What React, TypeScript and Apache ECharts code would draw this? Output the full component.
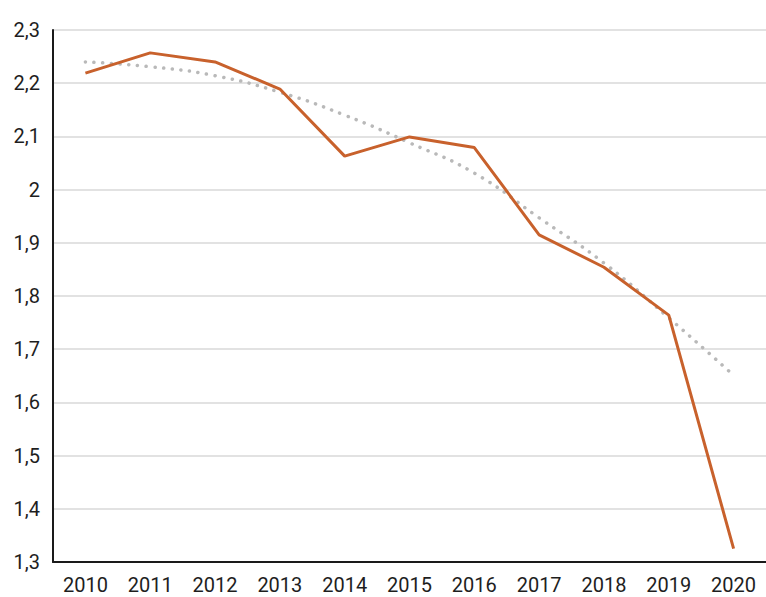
import React, { useEffect, useRef } from "react";
import * as echarts from "echarts";

const years = ["2010", "2011", "2012", "2013", "2014", "2015", "2016", "2017", "2018", "2019", "2020"];
const values = [2.219, 2.257, 2.24, 2.189, 2.063, 2.099, 2.079, 1.915, 1.854, 1.764, 1.325];
const trend = [2.24, 2.231, 2.214, 2.183, 2.14, 2.088, 2.031, 1.947, 1.862, 1.759, 1.651];

export default function App() {
  const ref = useRef<HTMLDivElement>(null);
  useEffect(() => {
    if (!ref.current) return;
    const chart = echarts.init(ref.current, null, { renderer: "svg" });
    chart.setOption({
      animation: false,
      backgroundColor: "#ffffff",
      grid: { left: 53, top: 30, width: 718, height: 532, containLabel: false },
      xAxis: {
        type: "category",
        data: years,
        boundaryGap: true,
        axisLine: { show: true, lineStyle: { color: "#1a1a1a", width: 2 } },
        axisTick: { show: false },
        axisLabel: { color: "#1e1e1e", fontSize: 20, fontFamily: "Roboto", margin: 13 },
        splitLine: { show: false },
      },
      yAxis: {
        type: "value",
        min: 1.3,
        max: 2.3,
        interval: 0.1,
        axisLine: { show: true, lineStyle: { color: "#1a1a1a", width: 2 } },
        axisTick: { show: false },
        axisLabel: {
          color: "#1e1e1e",
          fontSize: 20,
          fontFamily: "Roboto",
          margin: 13,
          formatter: (v: number) => String(+v.toFixed(1)).replace(".", ","),
        },
        splitLine: { show: true, lineStyle: { color: "#e2e2e2", width: 2 } },
      },
      series: [
        {
          type: "line",
          data: trend,
          smooth: true,
          symbol: "none",
          lineStyle: { color: "#b9b9b9", width: 3.5, type: [0.1, 8.6], cap: "round" },
          z: 2,
        },
        {
          type: "line",
          data: values,
          symbol: "none",
          lineStyle: { color: "#c8612c", width: 3 },
          z: 3,
        },
      ],
    });
    return () => chart.dispose();
  }, []);
  return (
    <div
      ref={ref}
      style={{ position: "fixed", left: 0, top: 0, width: 766, height: 597 }}
    />
  );
}
